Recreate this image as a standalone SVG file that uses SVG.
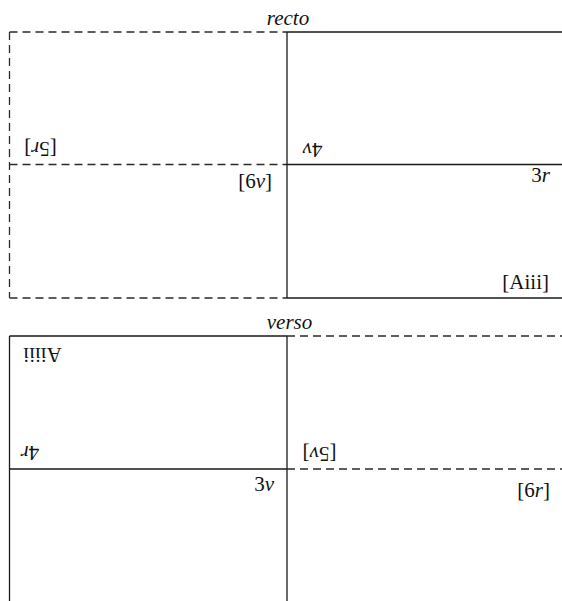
<svg xmlns="http://www.w3.org/2000/svg" width="562" height="601" viewBox="0 0 562 601">
  <style>
    .solid { fill: none; stroke: #1a1a1a; stroke-width: 1.3; }
    .dash { fill: none; stroke: #2a2a2a; stroke-width: 1.3; stroke-dasharray: 8 5; }
    text { font-family: "Liberation Serif", "DejaVu Serif", serif; font-size: 21px; fill: #111; }
    .it { font-style: italic; }
  </style>
  <rect width="562" height="601" fill="#ffffff"/>

  <g id="recto">
    <text class="it" x="288" y="25" text-anchor="middle">recto</text>
    <g id="recto-lines">
      <path class="dash" d="M9.5,32 H287 M9.5,32 V298 M9.5,164.5 H287 M9.5,298 H287"/>
      <path class="solid" d="M287,32 V298 M287,32 H562 M287,164.5 H562 M287,298 H562"/>
    </g>
    <g id="recto-labels">
      <text transform="translate(40.5,142) rotate(180)" text-anchor="middle">[5<tspan class="it">r</tspan>]</text>
      <text x="272" y="188" text-anchor="end">[6<tspan class="it">v</tspan>]</text>
      <text transform="translate(312.5,143) rotate(180)" text-anchor="middle">4<tspan class="it">v</tspan></text>
      <text x="550" y="182" text-anchor="end">3<tspan class="it">r</tspan></text>
      <text x="549" y="289" text-anchor="end">[Aiii]</text>
    </g>
  </g>

  <g id="verso">
    <text class="it" x="289.5" y="329" text-anchor="middle">verso</text>
    <g id="verso-lines">
      <path class="solid" d="M9.5,336 H287 M9.5,336 V601 M9.5,469 H287 M287,336 V601"/>
      <path class="dash" d="M287,336 H562 M287,469 H562"/>
    </g>
    <g id="verso-labels">
      <text transform="translate(42.5,348) rotate(180)" text-anchor="middle">Aiiii</text>
      <text transform="translate(30,446) rotate(180)" text-anchor="middle">4<tspan class="it">r</tspan></text>
      <text transform="translate(319.5,447) rotate(180)" text-anchor="middle">[5<tspan class="it">v</tspan>]</text>
      <text x="274" y="491" text-anchor="end">3<tspan class="it">v</tspan></text>
      <text x="550" y="497" text-anchor="end">[6<tspan class="it">r</tspan>]</text>
    </g>
  </g>
</svg>
